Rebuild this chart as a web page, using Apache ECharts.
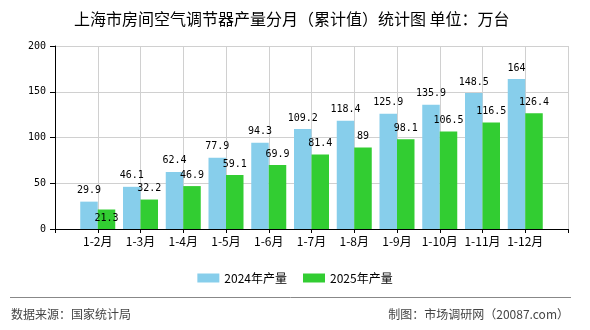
<!DOCTYPE html>
<html>
<head>
<meta charset="utf-8">
<script src="https://cdn.jsdelivr.net/npm/echarts@6/dist/echarts.min.js"></script>
<style>
html,body{margin:0;padding:0;background:#fff;}
#chart{width:590px;height:330px;}
</style>
</head>
<body>
<div id="chart"></div>
<script>
// ---- data ----
var categories = ['1-2月','1-3月','1-4月','1-5月','1-6月','1-7月','1-8月','1-9月','1-10月','1-11月','1-12月'];
var series2024 = [29.9, 46.1, 62.4, 77.9, 94.3, 109.2, 118.4, 125.9, 135.9, 148.5, 164];
var series2025 = [21.3, 32.2, 46.9, 59.1, 69.9, 81.4, 89, 98.1, 106.5, 116.5, 126.4];
var seriesNames = ['2024年产量', '2025年产量'];
var yTicks = [0, 50, 100, 150, 200];
var titleText = '上海市房间空气调节器产量分月（累计值）统计图 单位：万台';
var sourceText = '数据来源：国家统计局';
var creditText = '制图：市场调研网（20087.com）';

// padded axis: empty slot at each end, bars sit on the grid lines
var axisCats = [''].concat(categories).concat(['']);
function pad(arr){ return [null].concat(arr).concat([null]); }

var labelFont = {fontFamily:'DejaVu Sans Mono', fontSize:10, color:'#000'};

var greenData = pad(series2025).map(function(v, i){
  if (v === null) return null;
  var b = series2024[i-1];
  if (b - v < 12) {
    return {value: v, label: {offset: [0, 20]}};
  }
  return v;
});

var chart = echarts.init(document.getElementById('chart'), null, {renderer:'canvas'});
chart.setOption({
  animation: false,
  backgroundColor: '#fff',
  title: {
    text: titleText,
    left: 69, top: 6,
    textStyle: {fontFamily:'Noto Sans CJK SC', fontSize:16, fontWeight:'normal', color:'#000'}
  },
  legend: {
    data: seriesNames,
    left: 'center', top: 267,
    icon: 'rect', itemWidth: 22, itemHeight: 9, itemGap: 16,
    textStyle: {fontFamily:'Noto Sans CJK SC', fontSize:12, color:'#000'}
  },
  grid: {left: 55, right: 22, top: 46, bottom: 101, containLabel: false},
  xAxis: {
    type: 'category',
    data: axisCats,
    boundaryGap: false,
    axisLine: {lineStyle: {color:'#000', width:1}},
    axisTick: {show: true, length: 4, lineStyle:{color:'#000'}},
    axisLabel: {interval: 0, margin: 6, fontFamily:'Noto Sans CJK SC', fontSize:12, color:'#000'},
    splitLine: {show: true, lineStyle: {color:'#d0d0d0', width:1}}
  },
  yAxis: {
    type: 'value',
    min: yTicks[0], max: yTicks[yTicks.length-1], interval: yTicks[1]-yTicks[0],
    axisLine: {show: true, lineStyle: {color:'#000', width:1}},
    axisTick: {show: true, length: 5, lineStyle:{color:'#000'}},
    axisLabel: {margin: 9, fontFamily:'DejaVu Sans Mono', fontSize:10, color:'#000'},
    splitLine: {show: true, lineStyle: {color:'#d0d0d0', width:1}}
  },
  series: [
    {
      name: seriesNames[0], type: 'bar', data: pad(series2024),
      barWidth: 17.5, barGap: '0%',
      itemStyle: {color: '#87CEEB'},
      label: Object.assign({show: true, position: 'top', distance: 6}, labelFont)
    },
    {
      name: seriesNames[1], type: 'bar', data: greenData,
      barWidth: 17.5, barGap: '0%',
      itemStyle: {color: '#32CD32'},
      label: Object.assign({show: true, position: 'top', distance: 6}, labelFont)
    }
  ],
  graphic: [
    {type:'line', shape:{x1:10, y1:297.5, x2:571, y2:297.5}, style:{stroke:'#888', lineWidth:1}},
    {type:'text', left: 11, top: 308, style:{text: sourceText, font:'12px "Noto Sans CJK SC"', fill:'#444'}},
    {type:'text', right: 21, top: 308, style:{text: creditText, font:'12px "Noto Sans CJK SC"', fill:'#444'}}
  ]
});
</script>
</body>
</html>
